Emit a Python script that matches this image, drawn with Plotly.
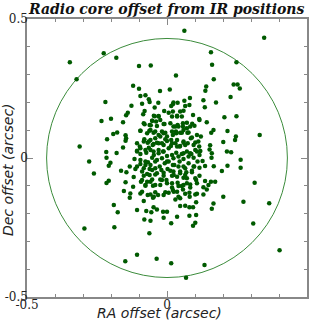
import plotly.graph_objects as go

# RA / Dec offsets (arcsec), grouped by sky region
ra_north = [0.062,0.347,-0.226,-0.181,0.157,-0.347,0.248,0.161,-0.100,-0.058,
            0.032,-0.323,0.167,0.238,0.252,0.260,0.140,-0.121,0.137,-0.100,
            0.010,-0.025,-0.077,0.227,-0.095,-0.065,-0.220,-0.062,-0.089,-0.127,
            -0.031,0.175,0.130,0.135,-0.044,-0.010,0.006,-0.080,-0.085,-0.140,
            -0.146,-0.234,-0.200,-0.157,-0.044,-0.030,-0.053,-0.024,-0.080,-0.058,
            -0.036,-0.009,-0.192,-0.178,-0.148,-0.146,-0.095,-0.063,-0.048,-0.018,
            -0.006,-0.214,-0.148,-0.081,-0.059,-0.042,-0.024,-0.006,-0.069,-0.048,
            -0.030,-0.012,-0.217,-0.180,-0.157,-0.107,-0.095,-0.077,-0.065,-0.048,
            -0.030,-0.012,0.006,-0.312]
dec_north = [0.458,0.433,0.377,0.361,0.380,0.344,0.344,0.335,0.331,0.333,
             0.297,0.283,0.283,0.264,0.264,0.250,0.257,0.260,0.242,0.249,
             0.246,0.241,0.226,0.219,0.223,0.211,0.201,0.201,0.195,0.188,
             0.199,0.200,0.208,0.183,0.182,0.169,0.163,0.169,0.157,0.163,
             0.154,0.133,0.141,0.129,0.150,0.151,0.134,0.137,0.121,0.118,
             0.115,0.122,0.086,0.092,0.082,0.071,0.098,0.098,0.091,0.095,
             0.091,0.067,0.062,0.067,0.065,0.071,0.077,0.067,0.055,0.050,
             0.053,0.047,0.022,0.018,0.038,0.026,0.035,0.029,0.037,0.023,
             0.029,0.023,0.035,0.041]

ra_northeast = [0.205,0.248,0.023,0.038,0.062,0.082,0.080,0.065,0.021,0.015,
                0.047,0.059,0.021,0.036,0.018,0.093,0.053,0.116,0.142,0.090,
                0.057,0.041,0.071,0.023,0.032,0.053,0.073,0.166,0.158,0.216,
                0.021,0.121,0.085,0.112,0.036,0.059,0.015,0.201,0.246,0.243,
                0.154,0.152,0.101,0.119,0.018,0.047,0.065,0.036,0.160,0.214,
                0.229,0.059,0.083,0.331]
dec_northeast = [0.147,0.150,0.200,0.199,0.206,0.216,0.191,0.187,0.193,0.187,
                 0.167,0.170,0.167,0.149,0.149,0.155,0.149,0.137,0.129,0.123,
                 0.125,0.113,0.107,0.113,0.095,0.091,0.091,0.101,0.091,0.097,
                 0.083,0.077,0.071,0.059,0.065,0.059,0.065,0.058,0.077,0.065,
                 0.046,0.031,0.029,0.025,0.053,0.043,0.047,0.041,0.017,0.023,
                 0.021,0.017,0.017,0.083]

ra_southwest = [-0.216,-0.202,-0.208,-0.261,-0.208,-0.216,-0.164,-0.145,-0.133,-0.116,
                -0.095,-0.107,-0.113,-0.083,-0.077,-0.068,-0.053,-0.036,-0.018,0.000,
                -0.062,-0.042,-0.020,0.002,-0.042,-0.062,-0.083,-0.119,-0.012,-0.089,
                -0.071,-0.053,-0.024,-0.002,-0.077,-0.050,-0.024,-0.148,-0.121,-0.154,
                -0.131,-0.133,-0.095,-0.069,-0.042,-0.032,-0.050,-0.006,-0.083,-0.048,
                -0.036,0.000,-0.107,-0.074,-0.056,-0.014,-0.190,-0.176,-0.081,-0.059,
                -0.012,-0.188,-0.063]
dec_southwest = [0.001,-0.017,-0.028,-0.056,-0.082,-0.090,-0.046,-0.051,-0.031,-0.004,
                 -0.007,-0.031,-0.040,-0.037,-0.025,-0.015,0.001,-0.007,-0.001,-0.013,
                 -0.040,-0.037,-0.043,-0.040,-0.059,-0.061,-0.064,-0.068,-0.064,-0.079,
                 -0.085,-0.077,-0.077,-0.079,-0.100,-0.100,-0.097,-0.087,-0.103,-0.119,
                 -0.128,-0.143,-0.128,-0.133,-0.123,-0.133,-0.143,-0.123,-0.155,-0.177,
                 -0.185,-0.193,-0.187,-0.191,-0.195,-0.193,-0.169,-0.195,-0.221,-0.226,
                 -0.215,-0.249,-0.271]

ra_southeast = [0.023,0.041,0.059,0.077,0.095,0.109,0.127,0.159,0.263,0.263,
                0.216,0.196,0.167,0.136,0.116,0.095,0.065,0.041,0.021,0.089,
                0.069,0.047,0.023,0.018,0.036,0.059,0.071,0.116,0.104,0.136,
                0.157,0.172,0.148,0.130,0.142,0.083,0.059,0.041,0.018,0.057,
                0.036,0.021,0.080,0.101,0.130,0.041,0.030,0.201,0.273,0.166,
                0.104,0.065,0.047,0.080,0.093,0.160,0.080,0.104,0.036,0.015,
                0.101,0.093]
dec_southeast = [-0.001,0.005,-0.004,0.005,0.001,-0.013,-0.011,0.001,-0.006,-0.035,
                 -0.028,-0.047,-0.030,-0.029,-0.035,-0.031,-0.037,-0.031,-0.025,-0.051,
                 -0.051,-0.055,-0.049,-0.064,-0.067,-0.071,-0.073,-0.064,-0.079,-0.083,
                 -0.085,-0.085,-0.097,-0.105,-0.113,-0.095,-0.097,-0.101,-0.091,-0.113,
                 -0.121,-0.115,-0.125,-0.131,-0.131,-0.139,-0.149,-0.139,-0.157,-0.164,
                 -0.159,-0.172,-0.173,-0.177,-0.177,-0.183,-0.208,-0.205,-0.211,-0.235,
                 -0.233,-0.244]

ra_core = [-0.047,-0.030,0.036,0.115,
           -0.083,-0.062,-0.053,-0.039,-0.012,0.012,0.030,0.038,0.057,0.071,0.083,0.098,
           -0.095,-0.071,-0.059,-0.042,-0.030,-0.012,0.000,0.018,0.033,0.047,0.059,0.077,0.089,0.107,
           -0.107,-0.097,-0.083,-0.065,-0.051,-0.036,-0.018,0.000,0.014,0.030,0.045,0.059,0.074,0.095,0.115,0.101,
           -0.107,-0.095,-0.074,-0.059,-0.047,-0.030,-0.014,0.000,0.018,0.033,0.053,0.071,0.087,0.107,0.116,
           -0.095,-0.077,-0.059,-0.042,-0.026,-0.008,0.006,0.026,0.045,0.059,0.077,0.097,
           -0.089,-0.071,-0.053,-0.036,-0.012,0.012,0.024,0.047,0.065,0.089,0.101,
           -0.093,-0.077,-0.059,-0.042,-0.018,0.000,0.018,0.038,0.053,0.071,0.083,0.107,
           -0.089,-0.059,-0.047,-0.012,0.006,0.024,0.047,0.065,0.081,0.107]
dec_core = [0.152,0.149,0.152,0.140,
            0.125,0.119,0.134,0.131,0.122,0.125,0.113,0.119,0.113,0.127,0.113,0.116,
            0.098,0.089,0.101,0.095,0.083,0.089,0.077,0.095,0.089,0.091,0.101,0.092,0.074,0.083,
            0.053,0.041,0.059,0.059,0.047,0.055,0.053,0.061,0.043,0.053,0.041,0.055,0.053,0.047,0.041,0.056,
            0.023,0.014,0.019,0.029,0.011,0.017,0.023,0.007,0.011,0.019,0.014,0.023,0.014,0.023,0.011,
            -0.022,-0.013,-0.025,-0.013,-0.031,-0.019,-0.013,-0.025,-0.013,-0.031,-0.019,-0.031,
            -0.049,-0.058,-0.043,-0.055,-0.053,-0.046,-0.061,-0.049,-0.061,-0.046,-0.073,
            -0.085,-0.097,-0.085,-0.097,-0.079,-0.091,-0.106,-0.089,-0.101,-0.091,-0.106,-0.091,
            -0.121,-0.131,-0.139,-0.133,-0.125,-0.121,-0.145,-0.129,-0.139,-0.129]

ra_outer = [0.313,0.365,0.308,0.402,0.134,0.015,0.068,-0.278,-0.295,-0.149,-0.107,-0.037]
dec_outer = [-0.089,-0.163,-0.236,-0.332,-0.385,-0.379,-0.431,-0.013,-0.254,-0.371,-0.348,-0.362]

circle_radius = 0.43
axis_range = [-0.5, 0.5]
tick_values = [-0.5, 0, 0.5]
tick_labels = ["-0.5", "0", "0.5"]

ra = ra_north + ra_northeast + ra_southwest + ra_southeast + ra_core + ra_outer
dec = dec_north + dec_northeast + dec_southwest + dec_southeast + dec_core + dec_outer

fig = go.Figure()
fig.add_trace(go.Scatter(
    x=ra, y=dec, mode="markers",
    marker=dict(color="#005a00", size=4.5, line=dict(width=0)),
    hoverinfo="skip", showlegend=False,
))

fig.add_shape(type="circle", xref="x", yref="y",
              x0=-circle_radius, x1=circle_radius, y0=-circle_radius, y1=circle_radius,
              line=dict(color="#3c8c3c", width=1), layer="below")

axis_common = dict(
    range=axis_range, tickmode="array", tickvals=tick_values, ticktext=tick_labels,
    ticks="inside", ticklen=6, tickwidth=1, tickcolor="#888888",
    minor=dict(dtick=0.1, ticks="inside", ticklen=3, tickcolor="#888888", tickwidth=1),
    showline=True, linecolor="#888888", linewidth=1.5, mirror="ticks",
    showgrid=False, zeroline=False, automargin=False, fixedrange=True,
    tickfont=dict(family="DejaVu Serif", size=12, color="#222222"),
)

fig.update_layout(
    width=316, height=328,
    margin=dict(l=27, r=9, t=19, b=31),
    plot_bgcolor="white", paper_bgcolor="white",
    xaxis=dict(**axis_common, ticklabelstandoff=-4),
    yaxis=dict(**axis_common, ticklabelstandoff=-5),
    annotations=[
        dict(text="Radio core offset from IR positions", xref="paper", yref="paper",
             x=0.497, y=1.036, xanchor="center", yanchor="middle", showarrow=False,
             font=dict(family="DejaVu Serif", size=14, color="#111111",
                       weight="bold", style="italic")),
        dict(text="RA offset (arcsec)", xref="paper", yref="paper",
             x=0.473, y=-0.056, xanchor="center", yanchor="middle", showarrow=False,
             font=dict(family="DejaVu Sans", size=14, color="#222222", style="italic")),
        dict(text="Dec offset (arcsec)", xref="paper", yref="paper",
             x=-0.068, y=0.46, xanchor="center", yanchor="middle", showarrow=False,
             textangle=-90,
             font=dict(family="DejaVu Sans", size=14, color="#222222", style="italic")),
    ],
)

fig.write_html("out.html", config={"displayModeBar": False},
               post_script="document.body.style.margin='0';document.body.style.overflow='hidden';")
